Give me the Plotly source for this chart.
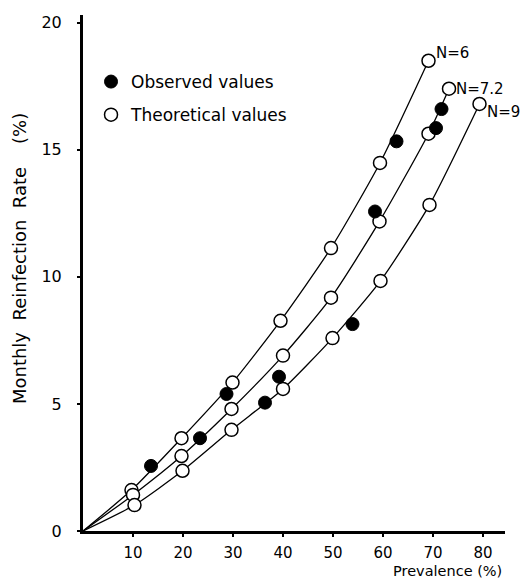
import plotly.graph_objects as go

# Observed values (filled)
obs_x = [13.6, 23.4, 28.7, 36.4, 39.2, 53.9, 58.4, 62.7, 70.6, 71.7]
obs_y = [2.56, 3.65, 5.39, 5.05, 6.07, 8.14, 12.57, 15.33, 15.85, 16.6]

# Theoretical values (open)
n6_x = [9.7, 19.7, 29.9, 39.5, 49.6, 59.4, 69.1]
n6_y = [1.61, 3.65, 5.84, 8.27, 11.13, 14.48, 18.5]

n72_x = [10.0, 19.7, 29.7, 40.0, 49.6, 59.3, 69.1, 73.2]
n72_y = [1.42, 2.95, 4.8, 6.9, 9.18, 12.18, 15.63, 17.4]

n9_x = [10.3, 19.9, 29.7, 40.0, 49.9, 59.5, 69.3, 79.3]
n9_y = [1.02, 2.37, 3.98, 5.59, 7.59, 9.84, 12.83, 16.8]

curve_labels = ["N=6", "N=7.2", "N=9"]
x_ticks = [10, 20, 30, 40, 50, 60, 70, 80]
y_ticks = [0, 5, 10, 15, 20]

FONT = "DejaVu Sans"
fig = go.Figure()

curves = [(n6_x, n6_y), (n72_x, n72_y), (n9_x, n9_y)]
for cx, cy in curves:
    fig.add_trace(go.Scatter(
        x=[0] + cx, y=[0] + cy, mode="lines",
        line=dict(color="black", width=1.3, shape="spline", smoothing=0.6),
        showlegend=False, hoverinfo="skip"))

for i, (cx, cy) in enumerate(curves):
    fig.add_trace(go.Scatter(
        x=cx, y=cy, mode="markers",
        marker=dict(symbol="circle", size=13, color="white",
                    line=dict(color="black", width=1.5)),
        name="Theoretical values", legendgroup="theo", legendrank=2,
        showlegend=(i == 0)))

fig.add_trace(go.Scatter(
    x=obs_x, y=obs_y, mode="markers",
    marker=dict(symbol="circle", size=13, color="black",
                line=dict(color="black", width=1)),
    name="Observed values", legendgroup="obs", legendrank=1))

label_shifts = [8, 0, -8]
for lbl, (cx, cy), ys in zip(curve_labels, curves, label_shifts):
    fig.add_annotation(x=cx[-1], y=cy[-1], text=lbl, showarrow=False,
                       xanchor="left", yanchor="middle", xshift=5, yshift=ys,
                       font=dict(family=FONT, size=15, color="black"))

fig.add_annotation(x=0.9975, y=0, xref="paper", yref="paper",
                   text="Prevalence (%)", showarrow=False,
                   xanchor="right", yanchor="middle", yshift=-40,
                   font=dict(family=FONT, size=14.5, color="black"))
fig.add_annotation(x=0, y=0.527, xref="paper", yref="paper",
                   text="Monthly\u00a0\u00a0Reinfection\u00a0\u00a0Rate\u00a0\u00a0\u00a0\u00a0(%)",
                   showarrow=False, textangle=-90, xanchor="center", yanchor="middle",
                   xshift=-64, font=dict(family=FONT, size=18, color="black"))

fig.update_layout(
    width=524, height=579,
    margin=dict(l=83, r=19, t=15, b=48, autoexpand=False),
    paper_bgcolor="white", plot_bgcolor="white",
    font=dict(family=FONT, size=16, color="black"),
    showlegend=True,
    legend=dict(x=0.019, y=0.905, xanchor="left", yanchor="top",
                traceorder="grouped", tracegroupgap=8,
                itemwidth=30, font=dict(family=FONT, size=17),
                bgcolor="rgba(0,0,0,0)"),
    xaxis=dict(range=[0, 84.4], tickvals=x_ticks, ticktext=[str(v) for v in x_ticks],
               showgrid=False, zeroline=False, showline=True, linecolor="black",
               linewidth=3, ticks="outside", ticklen=3, tickwidth=1.5,
               tickcolor="black", ticklabelstandoff=3, automargin=False,
               tickfont=dict(family=FONT, size=15)),
    yaxis=dict(range=[0, 20.3], tickvals=y_ticks, ticktext=[str(v) for v in y_ticks],
               showgrid=False, zeroline=False, showline=True, linecolor="black",
               linewidth=3, ticks="outside", ticklen=3, tickwidth=1.5,
               tickcolor="black", ticklabelstandoff=12, automargin=False,
               tickfont=dict(family=FONT, size=16)),
)

# remove the browser's default 8px page margin so the figure fills the window
fig.write_html("out.html",
               config={"displayModeBar": False},
               post_script="document.body.style.margin='0';"
                           "document.body.style.overflow='hidden';")
